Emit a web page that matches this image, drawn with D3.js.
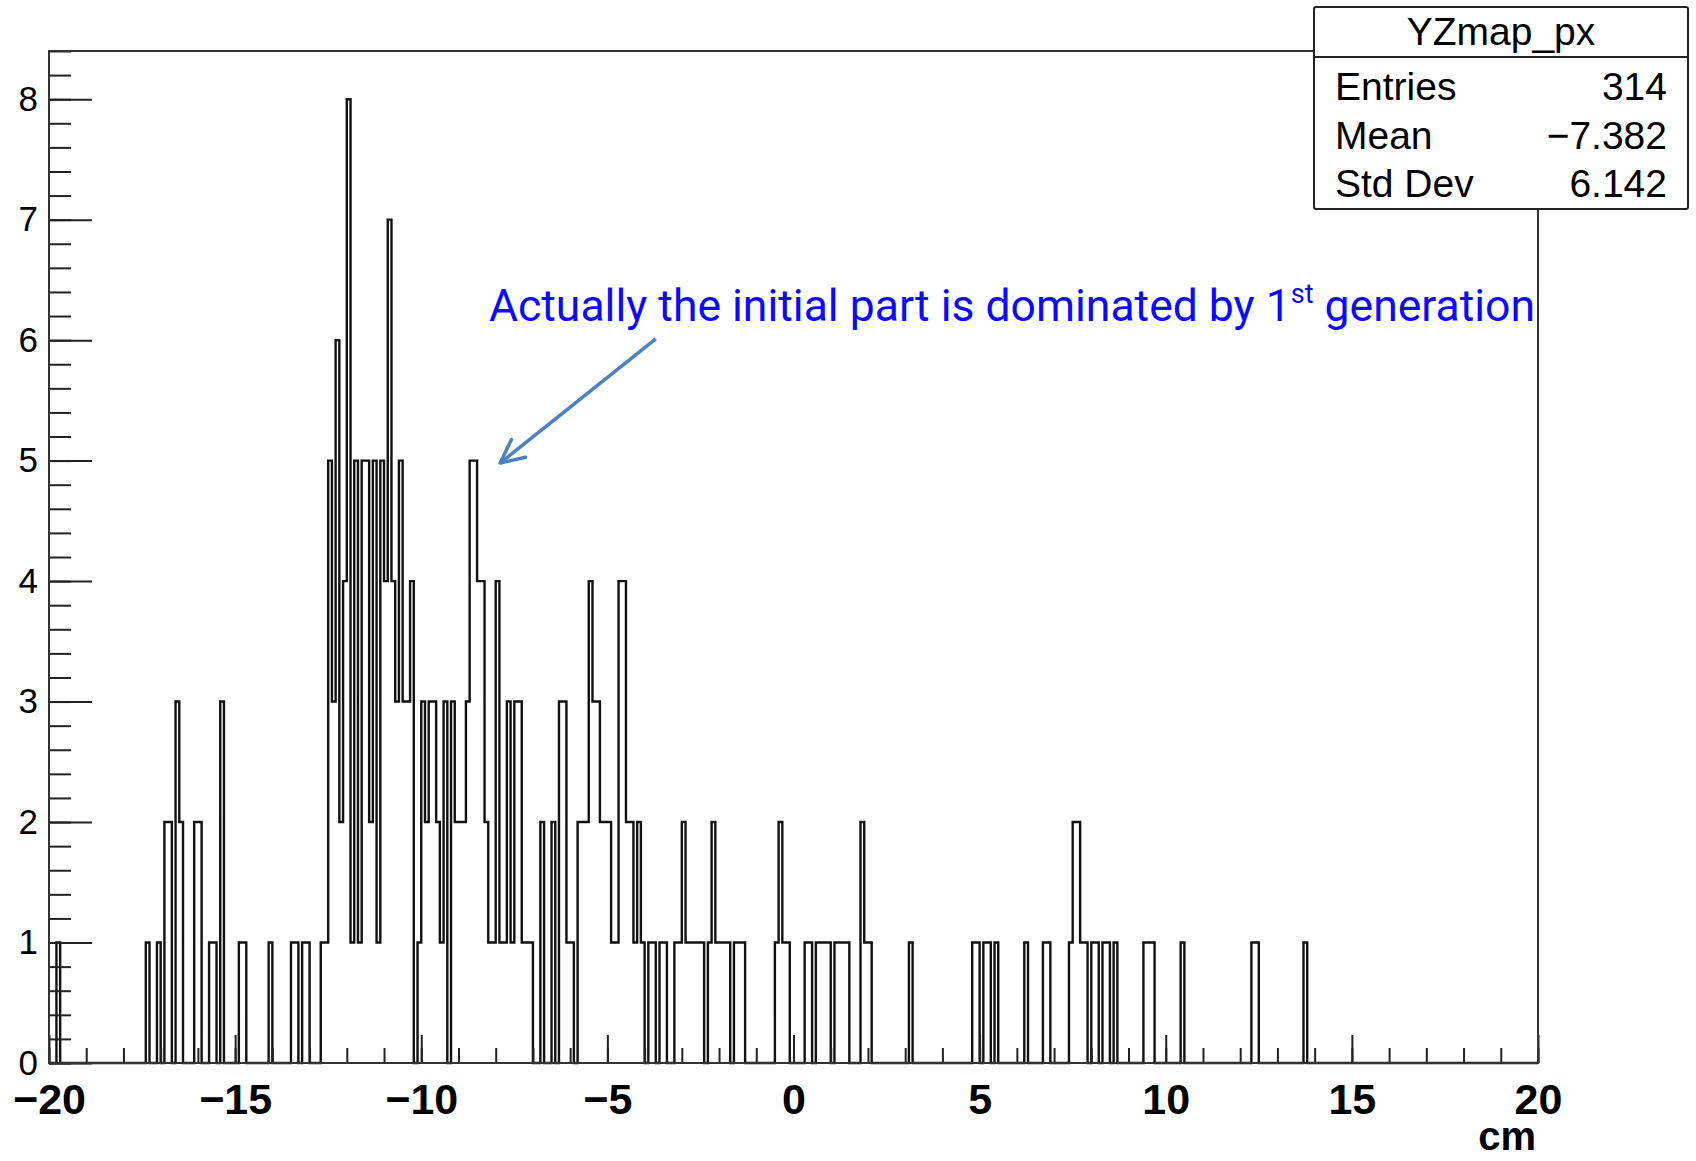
<!DOCTYPE html>
<html>
<head>
<meta charset="utf-8">
<script src="https://cdn.jsdelivr.net/npm/d3@7"></script>
<style>
  html, body { margin: 0; padding: 0; background: #fff; }
  svg { display: block; }
</style>
</head>
<body>
<svg id="chart" width="1696" height="1161"></svg>
<script>
// Histogram YZmap_px: 400 bins of 0.1 cm between -20 and 20.
// Only the non-empty bins are listed (lower edge in cm, content).
const binLow = [
  -19.8, -17.4, -17.1, -16.9, -16.8, -16.6, -16.5, -16.1, -16.0, -15.7, -15.6, -15.4,
  -14.9, -14.8, -14.1, -13.5, -13.4, -13.2, -13.1, -12.7, -12.6,
  -12.5, -12.4, -12.3, -12.2, -12.1, -12.0, -11.9, -11.8, -11.7, -11.6, -11.5, -11.4,
  -11.3, -11.2, -11.1, -11.0, -10.9, -10.8, -10.7, -10.6, -10.5, -10.4, -10.3,
  -10.1, -10.0, -9.9, -9.8, -9.7, -9.6, -9.5, -9.4, -9.2, -9.1, -9.0,
  -8.9, -8.8, -8.7, -8.6, -8.5, -8.4, -8.3, -8.2, -8.1, -8.0,
  -7.9, -7.8, -7.7, -7.6, -7.5, -7.4, -7.3, -7.2, -7.1,
  -6.8, -6.5, -6.3, -6.2, -6.1, -6.0,
  -5.8, -5.7, -5.6, -5.5, -5.4, -5.3, -5.2, -5.1, -5.0,
  -4.9, -4.8, -4.7, -4.6, -4.5, -4.4, -4.3, -4.2, -4.1,
  -3.9, -3.8, -3.6, -3.5, -3.2, -3.1, -3.0,
  -2.9, -2.8, -2.7, -2.6, -2.5, -2.3, -2.2, -2.1, -2.0,
  -1.9, -1.8, -1.6, -1.5, -1.4, -0.5, -0.4, -0.3, -0.2,
  0.3, 0.4, 0.6, 0.7, 0.8, 0.9, 1.1, 1.2, 1.3, 1.4, 1.8, 1.9, 2.0, 3.1,
  4.8, 4.9, 5.1, 5.2, 5.4, 6.2, 6.7, 6.8,
  7.4, 7.5, 7.6, 7.7, 7.8, 8.0, 8.1, 8.3, 8.4, 8.6,
  9.4, 9.5, 9.6, 10.4, 12.3, 12.4, 13.7
];
const binCount = [
  1, 1, 1, 2, 2, 3, 2, 2, 2, 1, 1, 3,
  1, 1, 1, 1, 1, 1, 1, 1, 1,
  5, 3, 6, 2, 4, 8, 1, 5, 1, 5, 5, 2,
  5, 1, 5, 4, 7, 4, 3, 5, 3, 3, 4,
  1, 3, 2, 3, 3, 2, 1, 3, 3, 2, 2,
  2, 3, 5, 5, 4, 4, 2, 1, 1, 4,
  1, 1, 3, 1, 3, 3, 1, 1, 1,
  2, 2, 3, 3, 1, 1,
  2, 2, 2, 4, 3, 3, 2, 2, 2,
  1, 1, 4, 4, 2, 2, 1, 2, 1,
  1, 1, 1, 1, 1, 1, 2,
  1, 1, 1, 1, 1, 1, 2, 1, 1,
  1, 1, 1, 1, 1, 1, 2, 1, 1,
  1, 1, 1, 1, 1, 1, 1, 1, 1, 1, 2, 1, 1, 1,
  1, 1, 1, 1, 1, 1, 1, 1,
  1, 2, 2, 1, 1, 1, 1, 1, 1, 1,
  1, 1, 1, 1, 1, 1, 1
];

const xTicksMajor = [-20, -15, -10, -5, 0, 5, 10, 15, 20];
const yTicksMajor = [0, 1, 2, 3, 4, 5, 6, 7, 8];
const histName = "YZmap_px";
const statLabels = ["Entries", "Mean", "Std Dev"];
const statValues = ["314", "\u22127.382", "6.142"];
const xTitle = "cm";

// annotation (data coordinates)
const noteParts = ["Actually the initial part is dominated by 1", "st", " generation"];
const notePos = [-8.18, 6.16];
const arrowFrom = [-3.7, 6.01];
const arrowTo = [-7.88, 4.98];

const xMin = -20, xMax = 20, binWidth = 0.1;
const nBins = Math.round((xMax - xMin) / binWidth);

const frame = { left: 49, right: 1538, top: 51, bottom: 1063 };

const svg = d3.select("#chart");
svg.append("rect").attr("width", 1696).attr("height", 1161).attr("fill", "#fff");

const x = d3.scaleLinear().domain([xMin, xMax]).range([frame.left, frame.right]);
const y = d3.scaleLinear().domain([0, 8.4]).range([frame.bottom, frame.top]);

// full bin contents
const counts = new Array(nBins).fill(0);
binLow.forEach((lo, i) => {
    counts[Math.round((lo - xMin) / binWidth)] = binCount[i];
});

// outline points, ROOT "HIST" style
const pts = [[xMin, 0]];
counts.forEach((c, i) => {
    const lo = xMin + i * binWidth;
    pts.push([lo, c]);
    pts.push([lo + binWidth, c]);
});
pts.push([xMax, 0]);

const line = d3.line().x(d => x(d[0])).y(d => y(d[1]));

svg.append("path")
    .attr("d", line(pts))
    .attr("fill", "none")
    .attr("stroke", "#111")
    .attr("stroke-width", 2.4);

// axes (ticks drawn inside the frame)
const axisFont = "'Liberation Sans', Arial, Helvetica, sans-serif";

const xMinor = svg.append("g").attr("transform", `translate(0,${frame.bottom})`)
    .call(d3.axisBottom(x).tickValues(d3.range(xMin, xMax + 0.5, 1)).tickSize(-15).tickFormat(""));
const xMajor = svg.append("g").attr("transform", `translate(0,${frame.bottom})`)
    .call(d3.axisBottom(x).tickValues(xTicksMajor).tickSize(-28).tickPadding(20));

const yMinor = svg.append("g").attr("transform", `translate(${frame.left},0)`)
    .call(d3.axisLeft(y).tickValues(d3.range(0, 8.41, 0.2)).tickSize(-22).tickFormat(""));
const yMajor = svg.append("g").attr("transform", `translate(${frame.left},0)`)
    .call(d3.axisLeft(y).tickValues(yTicksMajor).tickSize(-43).tickPadding(11));

[xMinor, xMajor, yMinor, yMajor].forEach(g => {
    g.select(".domain").remove();
    g.selectAll(".tick line").attr("stroke", "#222").attr("stroke-width", 2);
});

xMajor.selectAll(".tick text")
    .attr("font-family", axisFont)
    .attr("font-size", 43)
    .attr("font-weight", "bold")
    .attr("fill", "#000");

yMajor.selectAll(".tick text")
    .attr("font-family", axisFont)
    .attr("font-size", 35)
    .attr("fill", "#000");

// frame
svg.append("rect")
    .attr("x", frame.left).attr("y", frame.top)
    .attr("width", frame.right - frame.left).attr("height", frame.bottom - frame.top)
    .attr("fill", "none").attr("stroke", "#333").attr("stroke-width", 2);

// axis title
svg.append("text")
    .attr("x", frame.right - 2).attr("y", 1150)
    .attr("text-anchor", "end")
    .attr("font-family", axisFont).attr("font-size", 40).attr("font-weight", "bold")
    .text(xTitle);

// stats box
const box = { x: 1314, y: 7, w: 374, h: 202 };
const stats = svg.append("g");
stats.append("rect")
    .attr("x", box.x).attr("y", box.y).attr("width", box.w).attr("height", box.h)
    .attr("rx", 2)
    .attr("fill", "#fff").attr("stroke", "#222").attr("stroke-width", 2);
stats.append("line")
    .attr("x1", box.x).attr("x2", box.x + box.w)
    .attr("y1", 57).attr("y2", 57)
    .attr("stroke", "#222").attr("stroke-width", 2);
stats.append("text")
    .attr("x", box.x + box.w / 2).attr("y", 45)
    .attr("text-anchor", "middle")
    .attr("font-family", axisFont).attr("font-size", 39)
    .text(histName);

const rowY = d3.scalePoint().domain(statLabels).range([100, 197]);
stats.selectAll("text.lab")
    .data(statLabels)
    .join("text")
    .attr("class", "lab")
    .attr("x", 1335).attr("y", d => rowY(d))
    .attr("font-family", axisFont).attr("font-size", 39)
    .text(d => d);
stats.selectAll("text.val")
    .data(statValues)
    .join("text")
    .attr("class", "val")
    .attr("x", 1667).attr("y", (d, i) => rowY(statLabels[i]))
    .attr("text-anchor", "end")
    .attr("font-family", axisFont).attr("font-size", 39)
    .text(d => d);

// annotation text + arrow
const note = svg.append("text")
    .attr("x", x(notePos[0])).attr("y", y(notePos[1]))
    .attr("font-family", "Roboto, 'Open Sans', sans-serif")
    .attr("font-size", 44.5)
    .attr("fill", "#0a0aff");
note.append("tspan").text(noteParts[0]);
note.append("tspan").attr("font-size", 27).attr("dy", -18).text(noteParts[1]);
note.append("tspan").attr("dy", 18).text(noteParts[2]);

const ax0 = x(arrowFrom[0]), ay0 = y(arrowFrom[1]);
const ax1 = x(arrowTo[0]), ay1 = y(arrowTo[1]);
const ang = Math.atan2(ay0 - ay1, ax0 - ax1);
const headLen = 26, headAng = Math.PI / 7;

svg.append("line")
    .attr("x1", ax0).attr("y1", ay0).attr("x2", ax1).attr("y2", ay1)
    .attr("stroke", "#4f81bd").attr("stroke-width", 3.5);

svg.append("path")
    .attr("d", d3.line()([
        [ax1 + headLen * Math.cos(ang - headAng), ay1 + headLen * Math.sin(ang - headAng)],
        [ax1, ay1],
        [ax1 + headLen * Math.cos(ang + headAng), ay1 + headLen * Math.sin(ang + headAng)]
    ]))
    .attr("fill", "none")
    .attr("stroke", "#4f81bd").attr("stroke-width", 3.5)
    .attr("stroke-linejoin", "round").attr("stroke-linecap", "round");
</script>
</body>
</html>
